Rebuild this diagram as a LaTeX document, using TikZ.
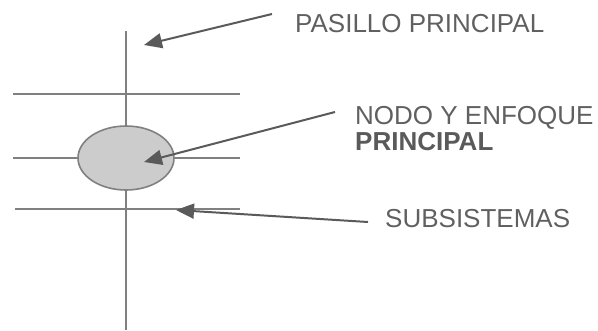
\documentclass[tikz,border=0pt]{standalone}
\usepackage{fontspec}
\setmainfont{Liberation Sans}
\usetikzlibrary{arrows.meta, calc, shapes.geometric}

\definecolor{linegray}{HTML}{808080}
\definecolor{arrowgray}{HTML}{5A5A5A}
\definecolor{textgray}{HTML}{606060}

\tikzset{
    axis/.style={draw=linegray, line width=1.4pt},
    pointer/.style={draw=arrowgray, line width=2pt, -{Triangle[length=18pt, width=15pt]}},
    label/.style={text=textgray, inner sep=0pt, anchor=base west,
        font=\fontsize{26}{26}\selectfont},
}

\begin{document}
\begin{tikzpicture}[x=1pt, y=-1pt]
    \useasboundingbox (0,0) rectangle (598,330);

    % pasillo y subsistemas
    \coordinate (top) at (126,31);
    \coordinate (bottom) at (126,330);
    \coordinate (s1l) at (13,94);
    \coordinate (s1r) at (240,94);
    \coordinate (s2l) at (13,158);
    \coordinate (s2r) at (240,158);
    \coordinate (s3l) at (15,209);
    \coordinate (s3r) at (240,209);
    \draw[axis] (top) -- (bottom);
    \draw[axis] (s1l) -- (s1r);
    \draw[axis] (s2l) -- (s2r);
    \draw[axis] (s3l) -- (s3r);

    \node[ellipse, draw=linegray, line width=1.6pt, fill=gray!40,
        minimum width=96pt, minimum height=64pt] (nodo) at (126,158) {};

    % textos
    \node[label] (pasillo) at (295,32) {PASILLO PRINCIPAL};
    \node[label] (enfoque) at (355,124) {NODO Y ENFOQUE};
    \node[label, text=arrowgray, font=\fontsize{26}{26}\selectfont\bfseries]
        (principal) at (355,150) {PRINCIPAL};
    \node[label] (subsis) at (385,227) {SUBSISTEMAS};

    % flechas
    \coordinate (p1) at (144,45);
    \coordinate (p2) at (144,162);
    \coordinate (p3) at (176,210);
    \draw[pointer] ([shift={(-23,-18)}]pasillo.base west) -- (p1);
    \draw[pointer] ([shift={(-20,-12)}]enfoque.base west) -- (p2);
    \draw[pointer] ([shift={(-17,-5)}]subsis.base west) -- (p3);
\end{tikzpicture}
\end{document}
